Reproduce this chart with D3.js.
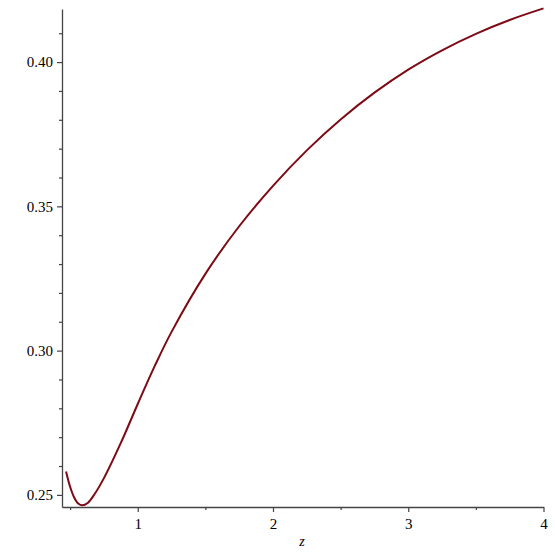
<!DOCTYPE html>
<html>
<head>
  <meta charset="utf-8">
  <style>
    body { margin: 0; background: white; }
    svg { display: block; }
    .tick text { font-family: "Liberation Serif", "DejaVu Serif", serif; font-size: 15px; fill: #000; }
  </style>
</head>
<body>
  <svg id="chart"></svg>
  <script src="https://cdn.jsdelivr.net/npm/d3@7"></script>
  <script>
    // 曲线数据
    var zValues = [0.47, 0.50, 0.53, 0.56, 0.59, 0.63, 0.68, 0.75, 0.875, 1.0, 1.125, 1.25,
      1.5, 1.75, 2.0, 2.25, 2.5, 2.75, 3.0, 3.25, 3.5, 3.75, 4.0];
    var fValues = [0.2581, 0.2528, 0.2491, 0.2470, 0.2464, 0.2472, 0.2502, 0.2558, 0.2680, 0.2815, 0.2946, 0.3065,
      0.3266, 0.3431, 0.3571, 0.3694, 0.3801, 0.3894, 0.3974, 0.4041, 0.4098, 0.4146, 0.4186];
    var xTicks = [1, 2, 3, 4];
    var xMinorTicks = [0.5, 1.5, 2.5, 3.5];
    var yTicks = [0.25, 0.30, 0.35, 0.40];
    var yMinorTicks = [0.26, 0.27, 0.28, 0.29, 0.31, 0.32, 0.33, 0.34, 0.36, 0.37, 0.38, 0.39, 0.41];
    var xLabel = "z";

    var width = 555, height = 555;
    var svg = d3.select("#chart").attr("width", width).attr("height", height);

    var x = d3.scaleLinear().domain([0.44, 4]).range([62, 543.5]);
    var y = d3.scaleLinear().domain([0.2458, 0.4184]).range([507, 9]);

    var data = zValues.map(function (z, i) { return { z: z, f: fValues[i] }; });

    var axisColor = "#444";

    // x 轴
    var gx = svg.append("g").attr("transform", "translate(0," + y.range()[0] + ")");
    gx.call(d3.axisBottom(x).tickValues(xTicks).tickFormat(d3.format("d")).tickSize(5).tickSizeOuter(0));
    gx.append("g").call(d3.axisBottom(x).tickValues(xMinorTicks).tickFormat("").tickSize(3).tickSizeOuter(0))
      .select(".domain").remove();

    // y 轴
    var gy = svg.append("g").attr("transform", "translate(" + x.range()[0] + ",0)");
    gy.call(d3.axisLeft(y).tickValues(yTicks).tickFormat(d3.format(".2f")).tickSize(5).tickSizeOuter(0));
    gy.append("g").call(d3.axisLeft(y).tickValues(yMinorTicks).tickFormat("").tickSize(3).tickSizeOuter(0))
      .select(".domain").remove();

    svg.selectAll(".domain").attr("stroke", axisColor).attr("stroke-width", 1.3);
    svg.selectAll(".tick line").attr("stroke", axisColor).attr("stroke-width", 1.2);
    gx.selectAll(".tick text").attr("dy", "0.9em");
    gy.selectAll(".tick text").attr("x", -9);

    svg.append("text")
      .attr("x", 302).attr("y", 546)
      .attr("text-anchor", "middle")
      .style("font-family", "Liberation Serif, serif")
      .style("font-style", "italic")
      .style("font-size", "14px")
      .text(xLabel);

    // 曲线
    var line = d3.line()
      .x(function (d) { return x(d.z); })
      .y(function (d) { return y(d.f); })
      .curve(d3.curveCatmullRom);

    svg.append("path")
      .datum(data)
      .attr("fill", "none")
      .attr("stroke", "#7d0a14")
      .attr("stroke-width", 2)
      .attr("d", line);
  </script>
</body>
</html>
